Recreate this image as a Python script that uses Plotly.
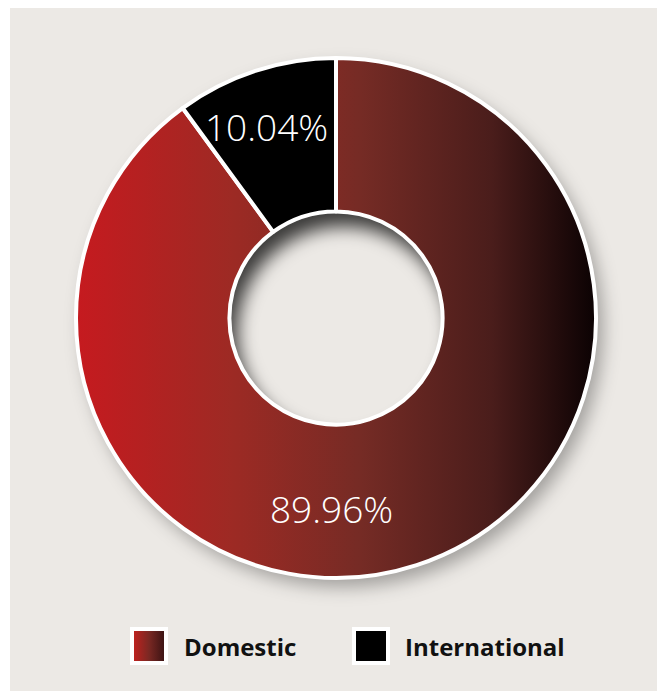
import base64
import plotly.graph_objects as go

# ---- data ----
labels = ["Domestic", "International"]
values = [89.96, 10.04]

# ---- styling ----
OFF = 8                      # page body margin of the browser
W, H = 665 - OFF - 5, 691 - OFF
BG = "#ece9e5"
GRAD = [(0.0, "#c61a1f"), (0.3, "#9d2a24"), (0.55, "#752b25"), (0.8, "#4a1d1b"), (1.0, "#0b0203")]
INTL_COLOR = "#000000"
HOLE = 0.41
CX, CY, R = 336, 318, 260


def px(x):
    return (x - OFF) / W


def py(y):
    return 1 - (y - OFF) / H


def svg_uri(svg):
    return "data:image/svg+xml;base64," + base64.b64encode(svg.encode()).decode()


stops = "".join(f'<stop offset="{o}" stop-color="{c}"/>' for o, c in GRAD)

# decorative ring backdrop (gradient, drop shadow, hole inset shadow) under the pie
S = 640
c = S / 2
rh = R * HOLE
ring_svg = f'''<svg xmlns="http://www.w3.org/2000/svg" width="{S}" height="{S}" viewBox="0 0 {S} {S}">
<defs>
<linearGradient id="g" gradientUnits="userSpaceOnUse" x1="{c-R}" y1="0" x2="{c+R}" y2="0">{stops}</linearGradient>
<filter id="sh" x="-30%" y="-30%" width="160%" height="160%"><feGaussianBlur stdDeviation="9"/></filter>
<filter id="ih" x="-30%" y="-30%" width="160%" height="160%"><feGaussianBlur stdDeviation="9"/></filter>
<clipPath id="hc"><circle cx="{c}" cy="{c}" r="{rh}"/></clipPath>
</defs>
<circle cx="{c+7}" cy="{c+9}" r="{R}" fill="#000" fill-opacity="0.32" filter="url(#sh)"/>
<circle cx="{c}" cy="{c}" r="{R}" fill="url(#g)"/>
<circle cx="{c}" cy="{c}" r="{rh}" fill="{BG}"/>
<g clip-path="url(#hc)"><circle cx="{c+8}" cy="{c+15}" r="{rh+25}" fill="none" stroke="#000" stroke-opacity="0.75" stroke-width="50" filter="url(#ih)"/></g>
</svg>'''

swatch_svg = '''<svg xmlns="http://www.w3.org/2000/svg" width="38" height="38" viewBox="0 0 38 38">
<defs><linearGradient id="g" x1="0" y1="0" x2="1" y2="0">
<stop offset="0" stop-color="#bd221f"/><stop offset="0.5" stop-color="#7a2823"/><stop offset="1" stop-color="#3d1414"/>
</linearGradient></defs><rect width="38" height="38" fill="#ffffff"/><rect x="4" y="4" width="30" height="30" fill="url(#g)"/></svg>'''

fig = go.Figure()
fig.add_trace(go.Pie(
    labels=labels,
    values=values,
    hole=HOLE,
    sort=False,
    direction="clockwise",
    rotation=0,
    marker=dict(colors=["rgba(0,0,0,0)", INTL_COLOR], line=dict(color="white", width=4)),
    textinfo="none",
    domain=dict(x=[px(CX - R), px(CX + R)], y=[py(CY + R), py(CY - R)]),
    showlegend=False,
    hoverinfo="label+percent",
))

images = [
    dict(source=svg_uri(ring_svg), xref="paper", yref="paper",
         x=px(CX - S / 2), y=py(CY - S / 2), sizex=S / W, sizey=S / H,
         xanchor="left", yanchor="top", sizing="stretch", layer="below"),
    dict(source=svg_uri(swatch_svg), xref="paper", yref="paper",
         x=px(130), y=py(627), sizex=38 / W, sizey=38 / H,
         xanchor="left", yanchor="top", sizing="stretch", layer="above"),
]

shapes = [
    # white frame strip at left of the beige panel
    dict(type="rect", xref="paper", yref="paper", x0=0, x1=px(10), y0=0, y1=1,
         fillcolor="white", line=dict(width=0), layer="below"),
    # international legend swatch
    dict(type="rect", xref="paper", yref="paper", x0=px(352), x1=px(390), y0=py(665), y1=py(627),
         fillcolor="white", line=dict(width=0), layer="above"),
    dict(type="rect", xref="paper", yref="paper", x0=px(356), x1=px(386), y0=py(661), y1=py(631),
         fillcolor=INTL_COLOR, line=dict(width=0), layer="above"),
]

# slice value labels
label_pos = [(331, 508), (266, 127)]
annotations = [
    dict(text=f"{v:.2f}%", xref="paper", yref="paper", x=px(lx), y=py(ly),
         xanchor="center", yanchor="middle", showarrow=False,
         font=dict(family="Open Sans", size=37, color="white", weight=300))
    for v, (lx, ly) in zip(values, label_pos)
]

legend_x = [182, 403]
annotations += [
    dict(text=f"<b>{lab}</b>", xref="paper", yref="paper", x=px(lx), y=py(646),
         xanchor="left", yanchor="middle", showarrow=False,
         font=dict(family="Open Sans", size=24, color="#111111"))
    for lab, lx in zip(labels, legend_x)
]

fig.update_layout(
    width=W, height=H,
    margin=dict(l=0, r=0, t=0, b=0),
    paper_bgcolor=BG,
    images=images,
    shapes=shapes,
    annotations=annotations,
    showlegend=False,
)

fig.write_html("out.html")
